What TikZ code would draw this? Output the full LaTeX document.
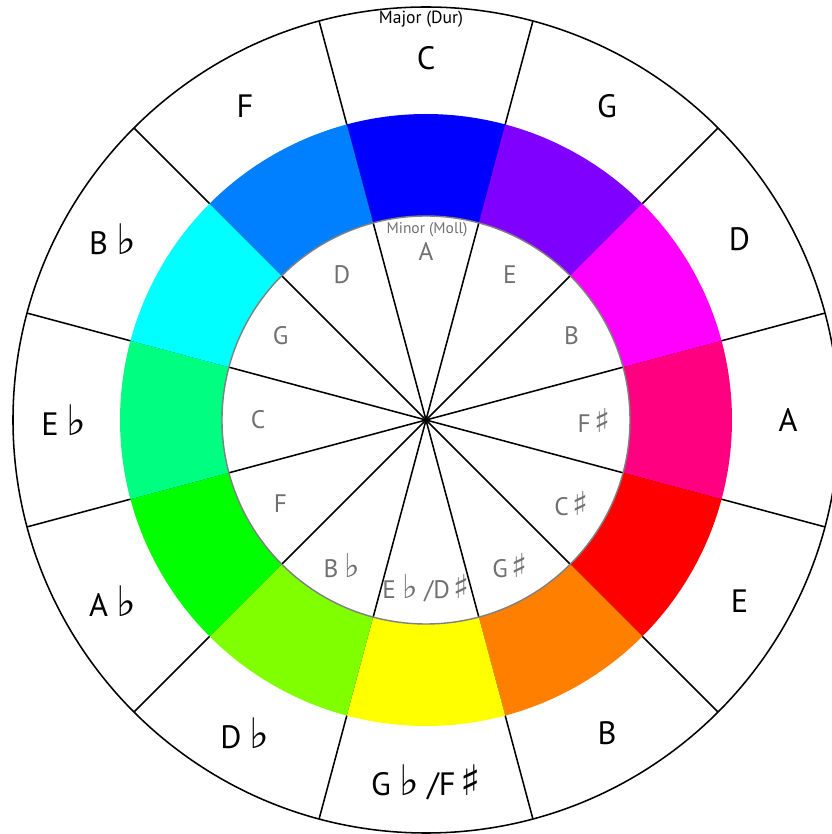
\documentclass[tikz,border=0pt]{standalone}
\usepackage{fontspec}
\setmainfont{PT Sans}
\newfontfamily\symfont{DejaVu Sans}
\usepackage{tikz}
\usetikzlibrary{calc}
\definecolor{keyC}{RGB}{0,0,255}
\definecolor{keyG}{RGB}{128,0,255}
\definecolor{keyD}{RGB}{255,0,255}
\definecolor{keyA}{RGB}{255,0,128}
\definecolor{keyE}{RGB}{255,0,0}
\definecolor{keyB}{RGB}{255,128,0}
\definecolor{keyGb}{RGB}{255,255,0}
\definecolor{keyDb}{RGB}{128,255,0}
\definecolor{keyAb}{RGB}{0,255,0}
\definecolor{keyEb}{RGB}{0,255,128}
\definecolor{keyBb}{RGB}{0,255,255}
\definecolor{keyF}{RGB}{0,128,255}
\definecolor{minorgray}{RGB}{112,112,112}
\newcommand{\fl}{\hspace{0.25em}\scalebox{1.3}{\symfont ♭}}
\newcommand{\sh}{\hspace{0.15em}\scalebox{1.3}{\symfont ♯}}
\tikzset{
    major key/.style={font=\fontsize{23}{24}\selectfont,inner sep=1pt},
    minor key/.style={font=\fontsize{18}{19}\selectfont,text=minorgray,inner sep=1pt},
    ring label/.style={font=\fontsize{12.5}{13}\selectfont,inner sep=1pt},
    spoke/.style={black,line width=1.1pt}
}
\begin{document}
\begin{tikzpicture}[x=0.025cm,y=0.025cm]
\clip (-426,-414) rectangle (406,420);
\coordinate (centre) at (0,0);
\fill[white] (-426,-414) rectangle (406,420);
\draw[line width=1.1pt,fill=white] (centre) circle[radius=413];
\foreach \a in {15,45,...,345}
    \draw[spoke] (centre) -- (\a:413);
\foreach \a/\col in {90/keyC,60/keyG,30/keyD,0/keyA,-30/keyE,-60/keyB,-90/keyGb,-120/keyDb,-150/keyAb,180/keyEb,150/keyBb,120/keyF}
    \fill[\col] (\a-15:306) arc[start angle=\a-15,end angle=\a+15,radius=306]
        -- (\a+15:204) arc[start angle=\a+15,end angle=\a-15,radius=204] -- cycle;
\draw[gray,line width=1pt] (centre) circle[radius=204];
% major keys
\foreach \a/\name/\txt in {90/C/C,60/G/G,30/D/D,0/A/A,-30/E/E,-60/B/B,-90/Gb/{G\fl\ /F\sh},-120/Db/{D\fl},-150/Ab/{A\fl},180/Eb/{E\fl},150/Bb/{B\fl},120/F/F}
    \node[major key] (maj_\name) at (\a:362) {\txt};
% minor keys
\foreach \a/\name/\txt in {90/a/A,60/e/E,30/b/B,0/fs/{F\sh},-30/cs/{C\sh},-60/gs/{G\sh},-90/ds/{E\fl\ /D\sh},-120/bb/{B\fl},-150/f/F,180/c/C,150/g/G,120/d/D}
    \node[minor key] (min_\name) at (\a:168) {\txt};
\node[ring label] (major) at (-5,401) {Major (Dur)};
\node[ring label,font=\fontsize{11}{12}\selectfont,text=minorgray] (minor) at (1,190) {Minor (Moll)};
\end{tikzpicture}
\end{document}
